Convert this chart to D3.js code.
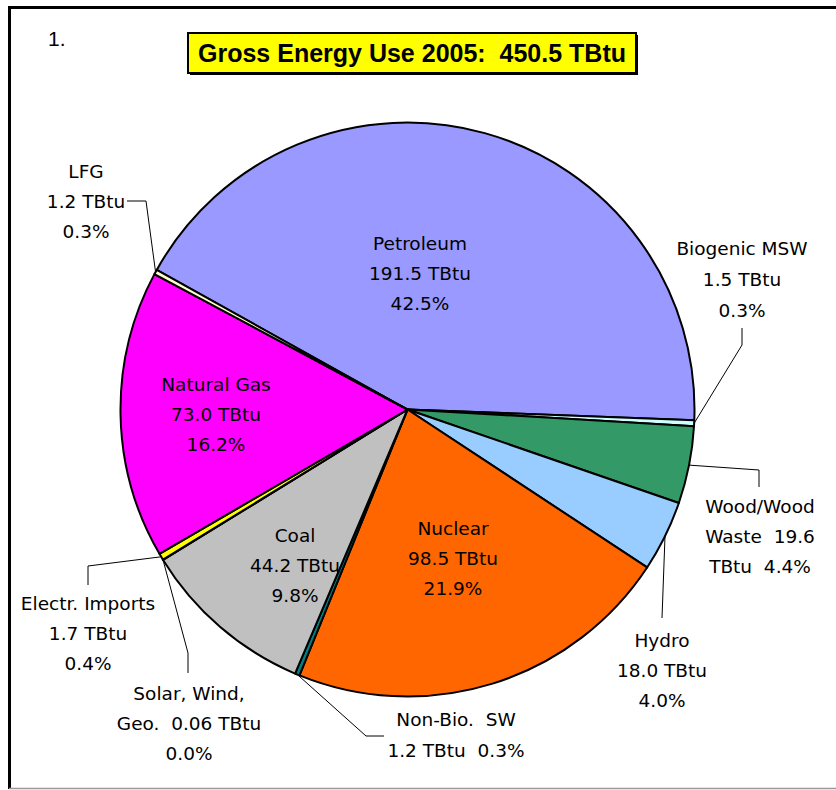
<!DOCTYPE html>
<html>
<head>
<meta charset="utf-8">
<script src="https://cdn.jsdelivr.net/npm/d3@7"></script>
<style>
  body { margin: 0; background: #fff; }
  .lbl { font-family: "DejaVu Sans", sans-serif; font-size: 18.5px; fill: #000; white-space: pre; }
</style>
</head>
<body>
<svg id="chart"></svg>
<script>
// data, in the pie's clockwise order
var categories = ["Petroleum", "Biogenic MSW", "Wood/Wood Waste", "Hydro", "Nuclear",
                  "Non-Bio. SW", "Coal", "Solar, Wind, Geo.", "Electr. Imports", "Natural Gas", "LFG"];
var values = [191.5, 1.5, 19.6, 18.0, 98.5, 1.2, 44.2, 0.06, 1.7, 73.0, 1.2];
var valueText = ["191.5", "1.5", "19.6", "18.0", "98.5", "1.2", "44.2", "0.06", "1.7", "73.0", "1.2"];
var colors = ["#9999FF", "#CCFFFF", "#339966", "#99CCFF", "#FF6600",
              "#008080", "#C0C0C0", "#FFCC99", "#FFFF00", "#FF00FF", "#FFFFCC"];
var total = 450.5;
var title = "Gross Energy Use 2005:  450.5 TBtu";

var width = 836, height = 790;
var cx = 407.5, cy = 409.5, radius = 287;

var svg = d3.select("#chart")
  .attr("width", width)
  .attr("height", height);

// frame
svg.append("line").attr("x1", 9.5).attr("y1", 7).attr("x2", 9.5).attr("y2", 789)
  .attr("stroke", "#000").attr("stroke-width", 3);
svg.append("line").attr("x1", 8).attr("y1", 7.5).attr("x2", 836).attr("y2", 7.5)
  .attr("stroke", "#000").attr("stroke-width", 3);
svg.append("line").attr("x1", 9).attr("y1", 788.5).attr("x2", 836).attr("y2", 788.5)
  .attr("stroke", "#999").attr("stroke-width", 1.5);

// "1." and the title box
svg.append("text")
  .attr("x", 48).attr("y", 46)
  .style("font-family", "'Liberation Sans Narrow', 'Liberation Sans', sans-serif")
  .style("font-size", "21px")
  .text("1.");

svg.append("rect").attr("x", 190).attr("y", 35).attr("width", 448).attr("height", 40).attr("fill", "#000");
svg.append("rect").attr("x", 188).attr("y", 33).attr("width", 448).attr("height", 40)
  .attr("fill", "#FFFF00").attr("stroke", "#000").attr("stroke-width", 2);
svg.append("text")
  .attr("x", 412).attr("y", 62)
  .attr("text-anchor", "middle")
  .style("font-family", "'Liberation Sans Narrow', 'Liberation Sans', sans-serif")
  .style("font-weight", "bold")
  .style("font-size", "25px")
  .style("white-space", "pre")
  .text(title);

// pie
var pie = d3.pie().sort(null)
  .startAngle(-60.9 * Math.PI / 180)
  .endAngle((360 - 60.9) * Math.PI / 180);
var arcs = pie(values);
var arc = d3.arc().innerRadius(0).outerRadius(radius);

var g = svg.append("g").attr("transform", "translate(" + cx + "," + cy + ")");
g.selectAll("path")
  .data(arcs)
  .enter()
  .append("path")
  .attr("d", arc)
  .attr("fill", function(d, i) { return colors[i]; })
  .attr("stroke", "#000")
  .attr("stroke-width", 2)
  .attr("stroke-linejoin", "round");

function pct(i) { return d3.format(".1f")(values[i] / total * 100) + "%"; }

// label text per slice, built from the data
var lines = [
  [categories[0], valueText[0] + " TBtu", pct(0)],
  ["Biogenic MSW", valueText[1] + " TBtu", pct(1)],
  ["Wood/Wood", "Waste  " + valueText[2], "TBtu  " + pct(2)],
  [categories[3], valueText[3] + " TBtu", pct(3)],
  [categories[4], valueText[4] + " TBtu", pct(4)],
  ["Non-Bio.  SW", valueText[5] + " TBtu  " + pct(5)],
  [categories[6], valueText[6] + " TBtu", pct(6)],
  ["Solar, Wind,", "Geo.  " + valueText[7] + " TBtu", pct(7)],
  [categories[8], valueText[8] + " TBtu", pct(8)],
  [categories[9], valueText[9] + " TBtu", pct(9)],
  [categories[10], valueText[10] + " TBtu", pct(10)]
];

// label placement (page coords: centre x, first line centre y, line step)
var labelPos = [
  [420, 243, 30], [742, 248, 31], [760, 506, 30], [662, 640, 30], [453, 528, 30],
  [456, 719, 31], [295, 535, 30], [189, 693, 30], [88, 603, 30], [216, 384, 30], [86, 171, 30]
];

// leader lines: start on the rim at the slice's middle angle, then bends
var leaderBends = {
  1: [[742, 345], [742, 328]],
  2: [[759, 470], [759, 487]],
  3: [[662, 618]],
  5: [[366, 736], [384, 736]],
  7: [[188, 653], [188, 673]],
  8: [[88, 566], [88, 585]],
  10: [[146, 201], [127, 201]]
};

var lineGen = d3.line();
Object.keys(leaderBends).forEach(function(k) {
  var d = arcs[+k];
  var a = (d.startAngle + d.endAngle) / 2;
  var p0 = [cx + radius * Math.sin(a), cy - radius * Math.cos(a)];
  svg.append("path")
    .attr("d", lineGen([p0].concat(leaderBends[k])))
    .attr("fill", "none")
    .attr("stroke", "#000")
    .attr("stroke-width", 1);
});

lines.forEach(function(ls, i) {
  var p = labelPos[i];
  var t = svg.append("text")
    .attr("class", "lbl")
    .attr("text-anchor", "middle");
  ls.forEach(function(s, j) {
    t.append("tspan")
      .attr("x", p[0])
      .attr("y", p[1] + j * p[2])
      .attr("dy", "0.36em")
      .text(s);
  });
});
</script>
</body>
</html>
